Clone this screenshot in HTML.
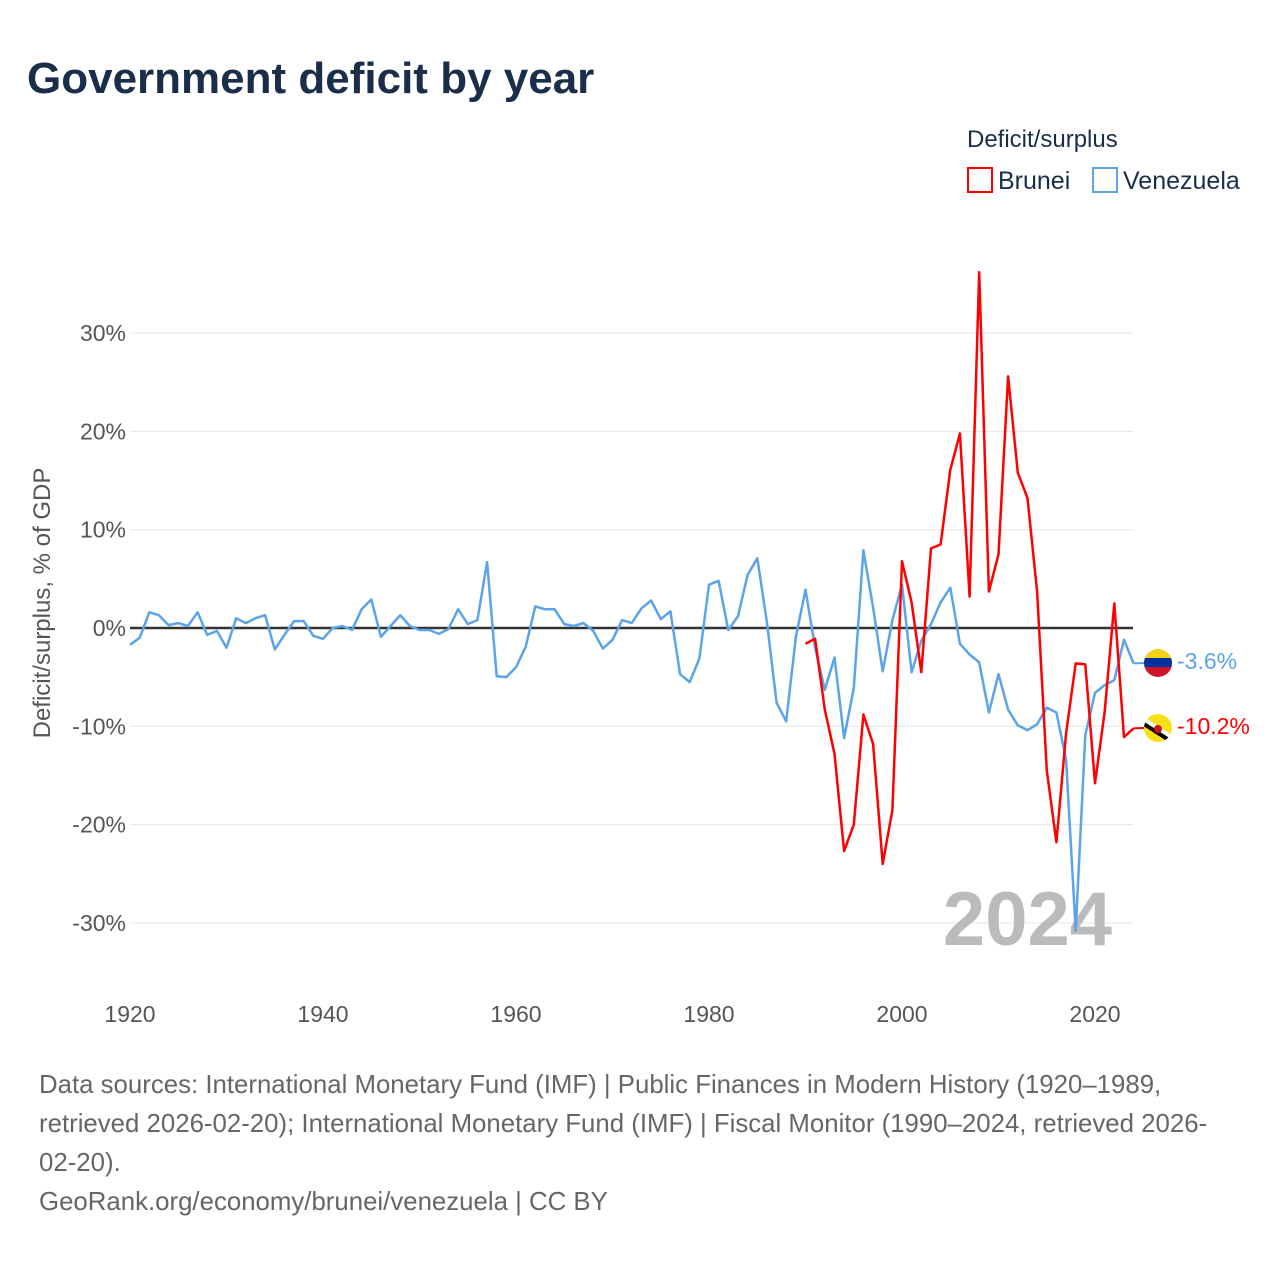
<!DOCTYPE html>
<html><head><meta charset="utf-8"><style>
body{margin:0;background:#fff;}
svg text{font-family:"Liberation Sans",sans-serif;}
</style></head><body>
<svg id="chart" width="1280" height="1280" viewBox="0 0 1280 1280" xmlns="http://www.w3.org/2000/svg">
<rect width="1280" height="1280" fill="#fff"/>
<text x="27" y="93" font-size="44" font-weight="bold" fill="#1a2e4a">Government deficit by year</text>
<text x="967" y="147" font-size="24" fill="#1a2e4a">Deficit/surplus</text>
<g><rect x="968" y="168" width="24" height="24" fill="none" stroke="#f00" stroke-width="2"/><text x="998" y="189" font-size="25" fill="#1a2e4a">Brunei</text></g>
<g><rect x="1093" y="168" width="24" height="24" fill="none" stroke="#5ba4e8" stroke-width="2"/><text x="1123" y="189" font-size="25" fill="#1a2e4a">Venezuela</text></g>
<text transform="translate(50,603) rotate(-90)" text-anchor="middle" font-size="24" fill="#555">Deficit/surplus, % of GDP</text>
<g id="grid"></g><g id="yt"></g><g id="xt"></g>
<text x="1112" y="945" text-anchor="end" font-size="76" font-weight="bold" fill="#bbb">2024</text>
<line x1="130" x2="1133" y1="628" y2="628" stroke="#333" stroke-width="2.5"/>
<g id="series"></g>
<g><clipPath id="cv"><circle cx="1158" cy="663" r="14"/></clipPath><g clip-path="url(#cv)"><rect x="1144" y="649" width="28" height="10" fill="#f7d117"/><rect x="1144" y="658" width="28" height="10" fill="#0033a0"/><rect x="1144" y="667" width="28" height="10" fill="#cf142b"/></g></g>
<text x="1177" y="669" font-size="23" fill="#5ba4e8">-3.6%</text>
<g><clipPath id="cb"><circle cx="1158" cy="728" r="14"/></clipPath><g clip-path="url(#cb)"><rect x="1144" y="714" width="28" height="28" fill="#f7e017"/><line x1="1144" y1="720" x2="1172" y2="738" stroke="#fff" stroke-width="5"/><line x1="1144" y1="724" x2="1172" y2="742" stroke="#000" stroke-width="4"/><circle cx="1158" cy="729" r="4" fill="#cf1126"/></g></g>
<text x="1177" y="734" font-size="23" fill="#f00">-10.2%</text>
<g font-size="25.8" fill="#666">
<text x="39" y="1093">Data sources: International Monetary Fund (IMF) | Public Finances in Modern History (1920–1989,</text>
<text x="39" y="1132">retrieved 2026-02-20); International Monetary Fund (IMF) | Fiscal Monitor (1990–2024, retrieved 2026-</text>
<text x="39" y="1171">02-20).</text>
<text x="39" y="1210">GeoRank.org/economy/brunei/venezuela | CC BY</text>
</g>
</svg>
<script>
const yTicks=[30,20,10,0,-10,-20,-30];
const xTicks=[1920,1940,1960,1980,2000,2020];
const bruneiStart=1990;
const bruneiValues=[-1.6,-1.1,-8.3,-12.8,-22.7,-20.0,-8.8,-11.8,-24.0,-18.5,6.8,2.6,-4.5,8.1,8.5,16.1,19.8,3.2,36.2,3.7,7.5,25.6,15.8,13.2,3.7,-14.5,-21.8,-10.7,-3.6,-3.7,-15.8,-8.5,2.5,-11.1,-10.2];
const venezuelaStart=1920;
const venezuelaValues=[-1.7,-1.0,1.6,1.3,0.3,0.5,0.2,1.6,-0.7,-0.3,-2.0,1.0,0.5,1.0,1.3,-2.2,-0.7,0.7,0.7,-0.8,-1.1,0,0.2,-0.2,1.9,2.9,-0.9,0.2,1.3,0.2,-0.2,-0.2,-0.6,-0.1,1.9,0.4,0.8,6.7,-4.9,-5.0,-4.0,-1.9,2.2,1.9,1.9,0.4,0.2,0.5,-0.3,-2.1,-1.2,0.8,0.5,2.0,2.8,0.9,1.7,-4.7,-5.5,-3.1,4.4,4.8,-0.2,1.2,5.4,7.1,0.6,-7.6,-9.5,-0.9,3.9,-2.0,-6.3,-3.0,-11.2,-6.1,7.9,2.1,-4.4,0.8,4.4,-4.5,-1.3,0.4,2.6,4.1,-1.6,-2.7,-3.5,-8.6,-4.7,-8.3,-9.9,-10.4,-9.8,-8.1,-8.6,-13.4,-30.8,-10.9,-6.6,-5.8,-5.3,-1.2,-3.6];
const NS='http://www.w3.org/2000/svg';
const X=y=>130+(y-1920)*9.65;
const Y=v=>628-v*9.83;
function mk(tag,attrs,parent){const e=document.createElementNS(NS,tag);for(const k in attrs)e.setAttribute(k,attrs[k]);parent.appendChild(e);return e;}
const grid=document.getElementById('grid'),yt=document.getElementById('yt'),xt=document.getElementById('xt'),ser=document.getElementById('series');
yTicks.forEach(t=>{
  const l=mk('line',{x1:130,x2:1133,y1:Y(t),y2:Y(t),stroke:'#e6e6e6','stroke-width':1},grid);
  
  
  const tx=mk('text',{x:126,y:Y(t)+8,'text-anchor':'end','font-size':23,fill:'#555'},yt);
  tx.textContent=t+'%';
  
  
});
xTicks.forEach(t=>{
  const tx=mk('text',{x:X(t),y:1022,'text-anchor':'middle','font-size':23,fill:'#555'},xt);
  tx.textContent=t;
  
  
});
function line(start,vals,color){
  const d=vals.map((v,i)=>(i?'L':'M')+X(start+i).toFixed(1)+','+Y(v).toFixed(1)).join('');
  return mk('path',{d:d,fill:'none',stroke:color,'stroke-width':2.5,'stroke-linejoin':'round'},ser);
}
const v=line(venezuelaStart,venezuelaValues,'#5ba4e8');


const b=line(bruneiStart,bruneiValues,'#ff0000');


const c1=mk('line',{x1:X(2024),x2:1145,y1:Y(-3.6),y2:663,stroke:'#5ba4e8','stroke-width':2},ser);


const c2=mk('line',{x1:X(2024),x2:1145,y1:Y(-10.2),y2:728,stroke:'#f00','stroke-width':2},ser);


</script>
</body></html>
